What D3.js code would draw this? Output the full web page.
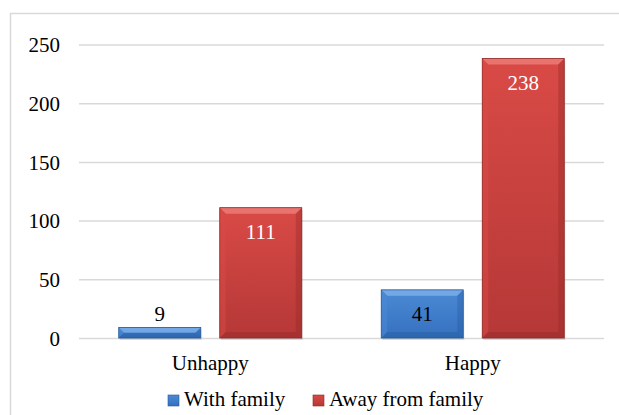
<!DOCTYPE html>
<html>
<head>
<meta charset="utf-8">
<style>
    body { margin: 0; background: #fff; }
    .y .tick line { stroke: #d9d9d9; stroke-width: 1.5; }
    .y .domain { display: none; }
    .x .domain, .x .tick line { display: none; }
</style>
</head>
<body>
<svg width="619" height="415"></svg>
<script src="https://cdnjs.cloudflare.com/ajax/libs/d3/7.8.5/d3.min.js"></script>
<script>
// data
const categories = ["Unhappy", "Happy"];
const seriesNames = ["With family", "Away from family"];
const withFamily = [9, 41];
const awayFromFamily = [111, 238];
const yTicks = [0, 50, 100, 150, 200, 250];

const svg = d3.select("svg");
const margin = { top: 44.5, right: 15, bottom: 77, left: 79 };
const W = 619, H = 415;
const serif = "'Liberation Serif'";
const fs = "21px";

// outer chart border
svg.append("rect")
    .attr("x", 10.5).attr("y", 13.5)
    .attr("width", 700).attr("height", 500)
    .attr("fill", "none").attr("stroke", "#d9d9d9").attr("stroke-width", 1.5);

const x0 = d3.scaleBand().domain(categories).range([margin.left, W - margin.right]);
const x1 = d3.scaleBand().domain(seriesNames).range([0, x0.bandwidth()])
    .paddingInner(0.188).paddingOuter(0.3935);
const y = d3.scaleLinear().domain([0, 250]).range([H - margin.bottom, margin.top]);

svg.append("g").attr("class", "y axis")
    .attr("transform", `translate(${margin.left},0)`)
    .call(d3.axisLeft(y).tickValues(yTicks).tickSize(-(W - margin.right - margin.left)).tickPadding(19))
    .selectAll(".tick text").attr("dy", "0.34em");

svg.append("g").attr("class", "x axis")
    .attr("transform", `translate(0,${y(0)})`)
    .call(d3.axisBottom(x0).tickSize(0).tickPadding(17));

svg.selectAll(".axis .tick text")
    .style("font-family", serif).style("font-size", fs).style("fill", "#000");

// colours per series
const pal = {
    "With family": { top: "#4b8ad6", bot: "#3570be", light: "#7aaee8", dark: "#245a9e", text: "#000" },
    "Away from family": { top: "#d94a46", bot: "#b53837", light: "#ec7a76", dark: "#8f2826", text: "#fff" }
};

const defs = svg.append("defs");
seriesNames.forEach(function (s, i) {
    const g = defs.append("linearGradient").attr("id", "g" + i)
        .attr("x1", 0).attr("y1", 0).attr("x2", 0).attr("y2", 1);
    g.append("stop").attr("offset", "0%").attr("stop-color", pal[s].top);
    g.append("stop").attr("offset", "100%").attr("stop-color", pal[s].bot);
});

const rows = [];
categories.forEach(function (c, i) {
    rows.push({ cat: c, series: seriesNames[0], value: withFamily[i], idx: 0 });
    rows.push({ cat: c, series: seriesNames[1], value: awayFromFamily[i], idx: 1 });
});

const bars = svg.append("g").selectAll("g.bar").data(rows).join("g").attr("class", "bar");

bars.each(function (d) {
    const g = d3.select(this);
    const bx = x0(d.cat) + x1(d.series);
    const bw = x1.bandwidth();
    const by = y(d.value);
    const bh = y(0) - by;
    const b = Math.min(6, bh / 2);
    const p = pal[d.series];

    // shadow
    g.append("rect").attr("x", bx + 1).attr("y", by + 2).attr("width", bw).attr("height", bh)
        .attr("fill", "#000").attr("opacity", 0.12);
    g.append("rect").attr("x", bx).attr("y", by).attr("width", bw).attr("height", bh)
        .attr("fill", `url(#g${d.idx})`);
    // bevels
    g.append("polygon").attr("points", [[bx, by], [bx + bw, by], [bx + bw - b, by + b], [bx + b, by + b]].join(" "))
        .attr("fill", p.light).attr("opacity", 0.85);
    g.append("polygon").attr("points", [[bx, by], [bx + b, by + b], [bx + b, by + bh - b], [bx, by + bh]].join(" "))
        .attr("fill", p.top).attr("opacity", 0.5);
    g.append("polygon").attr("points", [[bx + bw, by], [bx + bw, by + bh], [bx + bw - b, by + bh - b], [bx + bw - b, by + b]].join(" "))
        .attr("fill", p.dark).attr("opacity", 0.35);
    g.append("polygon").attr("points", [[bx, by + bh], [bx + bw, by + bh], [bx + bw - b, by + bh - b], [bx + b, by + bh - b]].join(" "))
        .attr("fill", p.dark).attr("opacity", 0.4);
    g.append("rect").attr("x", bx).attr("y", by).attr("width", bw).attr("height", bh)
        .attr("fill", "none").attr("stroke", p.dark).attr("stroke-width", 0.8);

    // label: inside if tall enough, else above
    const inside = bh > 30;
    g.append("text")
        .attr("x", bx + bw / 2)
        .attr("y", inside ? by + 31 : by - 6)
        .attr("text-anchor", "middle")
        .style("font-family", serif)
        .style("font-size", fs)
        .style("fill", inside ? p.text : "#000")
        .text(d.value);
});

// legend
const legendX = [168, 313];
const legend = svg.append("g").selectAll("g").data(seriesNames).join("g")
    .attr("transform", function (d, i) { return `translate(${legendX[i]},395)`; });
legend.append("rect").attr("width", 11).attr("height", 11)
    .attr("fill", function (d, i) { return `url(#g${i})`; })
    .attr("stroke", function (d) { return pal[d].dark; }).attr("stroke-width", 0.6);
legend.append("text").attr("x", 16).attr("y", 10.5)
    .style("font-family", serif).style("font-size", fs)
    .text(function (d) { return d; });
</script>
</body>
</html>
